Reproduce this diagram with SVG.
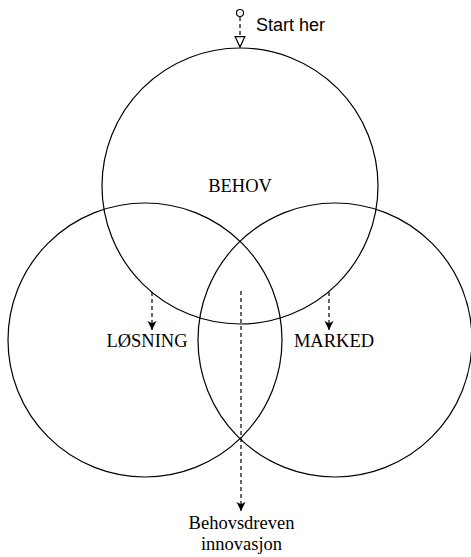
<svg xmlns="http://www.w3.org/2000/svg" width="471" height="557" viewBox="0 0 471 557">
<style>
.c{fill:none;stroke:#000;stroke-width:1.2}
.d{fill:none;stroke:#000;stroke-width:1.2;stroke-dasharray:4 3}
.t{font-family:"Liberation Serif",serif;font-size:18.5px;fill:#000;text-anchor:middle}
.s{font-family:"Liberation Sans",Arial,sans-serif;font-size:18px;fill:#000}
</style>
<defs>
<marker id="fa" markerWidth="11" markerHeight="11" refX="9" refY="4.5" orient="auto" markerUnits="userSpaceOnUse" viewBox="0 0 11 9">
<path d="M0,0 L9,4.5 L0,9 L2.2,4.5 Z" fill="#000"/>
</marker>
<marker id="ha" markerWidth="13" markerHeight="13" refX="11" refY="5.5" orient="auto" markerUnits="userSpaceOnUse" viewBox="0 0 13 11">
<path d="M0.6,0.6 L11,5.5 L0.6,10.4 Z" fill="#fff" stroke="#000" stroke-width="1.2"/>
</marker>
</defs>
<g id="behov"><circle class="c" cx="240" cy="186" r="138"/><text class="t" x="240" y="192">BEHOV</text></g>
<g id="losning"><circle class="c" cx="145" cy="340" r="137"/><text class="t" x="147" y="347">LØSNING</text></g>
<g id="marked"><circle class="c" cx="335" cy="340" r="137"/><text class="t" x="334" y="347">MARKED</text></g>
<g id="start"><circle cx="240" cy="13" r="3.5" fill="#fff" stroke="#000" stroke-width="1.2"/><text class="s" x="256" y="31">Start her</text></g>
<g id="result"><text class="t" x="241.5" y="529">Behovsdreven</text><text class="t" x="241.5" y="550">innovasjon</text></g>
<g id="connectors">
<path class="d" d="M240,17 L240,47" marker-end="url(#ha)"/>
<path class="d" d="M152,292 L152,330" marker-end="url(#fa)"/>
<path class="d" d="M329,292 L329,330" marker-end="url(#fa)"/>
<path class="d" d="M241,291 L241,511" marker-end="url(#fa)"/>
</g>
</svg>
